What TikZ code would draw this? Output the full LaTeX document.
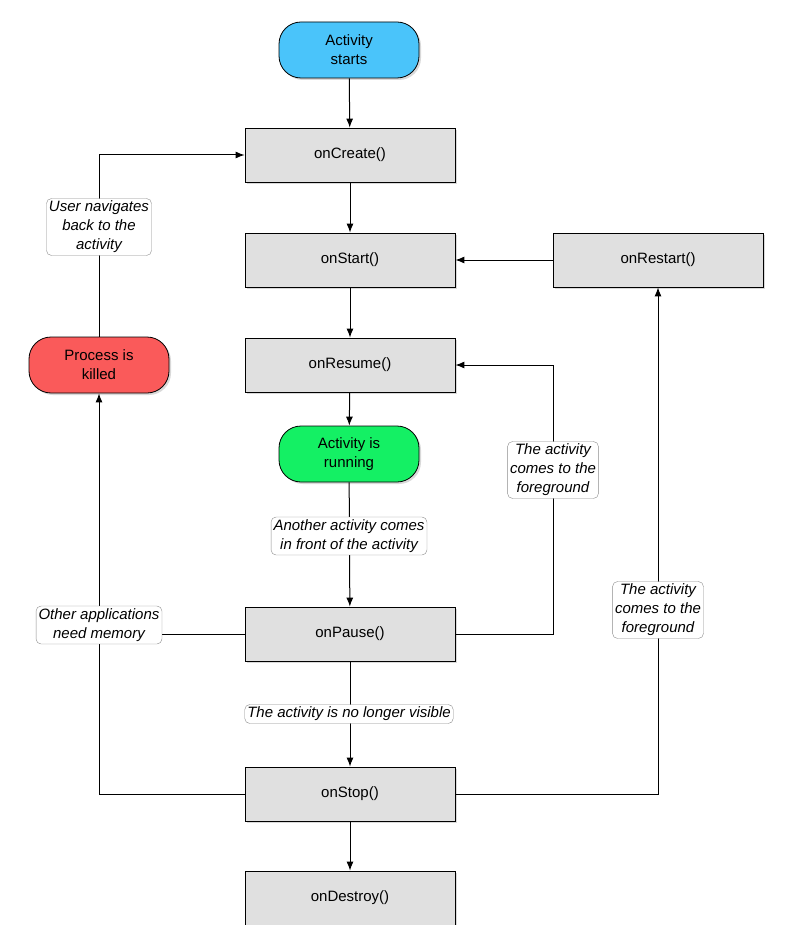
\documentclass[tikz,border=0pt]{standalone}
\usepackage{fontspec}
\setmainfont{Liberation Sans}
\usetikzlibrary{arrows.meta,shadows}
\begin{document}
\begin{tikzpicture}[x=1pt,y=-1pt,
  box/.style={draw=black,line width=0.8pt,fill=black!12,minimum width=210pt,minimum height=54pt,font=\fontsize{15}{18}\selectfont,drop shadow={shadow xshift=2pt,shadow yshift=-2pt,opacity=0.3}},
  pill/.style={draw=black,line width=0.8pt,rounded corners=22pt,minimum width=140pt,minimum height=56pt,align=center,font=\fontsize{15}{19}\selectfont,drop shadow={shadow xshift=2pt,shadow yshift=-2pt,opacity=0.3}},
  lab/.style={draw=black!45,fill=white,rounded corners=5pt,align=center,inner sep=2.5pt,font=\fontsize{15}{19}\selectfont\itshape},
  arr/.style={-{Latex[length=9pt,width=7pt]},line width=1pt},
  ln/.style={line width=1pt}]
\useasboundingbox (0,0) rectangle (792,925);
\node[pill,fill={rgb,255:red,74;green,196;blue,250}] (start) at (349,50) {Activity\\starts};
\node[box] (create) at (350,155) {onCreate()};
\node[box] (startf) at (350,260) {onStart()};
\node[box] (restart) at (658,260) {onRestart()};
\node[box] (resume) at (350,365) {onResume()};
\node[pill,fill={rgb,255:red,20;green,240;blue,100}] (run) at (349,454) {Activity is\\running};
\node[box] (pause) at (350,634) {onPause()};
\node[box] (stop) at (350,794) {onStop()};
\node[box] (destroy) at (350,898) {onDestroy()};
\node[pill,fill={rgb,255:red,250;green,90;blue,90}] (kill) at (99,365) {Process is\\killed};
\coordinate (c1) at (99,155);
\coordinate (c2) at (553,634);
\coordinate (c3) at (553,365);
\coordinate (c4) at (658,794);
\coordinate (c5) at (99,634);
\coordinate (c6) at (99,794);
\draw[arr] (start) -- (create);
\draw[arr] (create) -- (startf);
\draw[arr] (startf) -- (resume);
\draw[arr] (resume) -- (run);
\draw[arr] (run) -- (pause);
\draw[arr] (pause) -- (stop);
\draw[arr] (stop) -- (destroy);
\draw[arr] (restart) -- (startf);
\draw[arr] (pause.east) -- (c2) -- (c3) -- (resume.east);
\draw[arr] (stop.east) -- (c4) -- (restart.south);
\draw[arr] (pause.west) -- (c5) -- (kill.south);
\draw[ln] (stop.west) -- (c6) -- (c5);
\draw[arr] (kill.north) -- (c1) -- (create.west);
\node[lab] (l1) at (99,227) {User navigates\\back to the\\activity};
\node[lab] (l2) at (349,536) {Another activity comes\\in front of the activity};
\node[lab] (l3) at (349,714) {The activity is no longer visible};
\node[lab] (l4) at (99,625) {Other applications\\need memory};
\node[lab] (l5) at (553,470) {The activity\\comes to the\\foreground};
\node[lab] (l6) at (658,610) {The activity\\comes to the\\foreground};
\end{tikzpicture}
\end{document}
